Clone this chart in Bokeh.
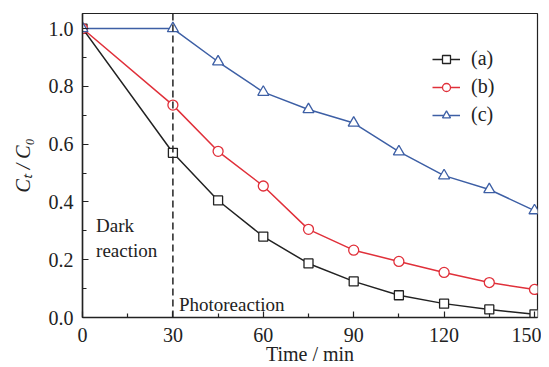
from bokeh.plotting import figure
from bokeh.models import Range1d, Span, Label, Legend, LegendItem, FixedTicker, PrintfTickFormatter
from bokeh.embed import file_html
from bokeh.resources import INLINE

time = [0, 30, 45, 60, 75, 90, 105, 120, 135, 150]
series_a = [1.0, 0.57, 0.405, 0.28, 0.187, 0.125, 0.077, 0.048, 0.028, 0.011]
series_b = [1.0, 0.735, 0.575, 0.455, 0.305, 0.233, 0.194, 0.156, 0.121, 0.097]
series_c = [1.0, 1.0, 0.885, 0.78, 0.72, 0.673, 0.574, 0.491, 0.443, 0.37]
labels = ["(a)", "(b)", "(c)"]
x_ticks = [0, 30, 60, 90, 120, 150]
y_ticks = [0.0, 0.2, 0.4, 0.6, 0.8, 1.0]

FONT = "Liberation Serif"
BLACK = "#222222"
RED = "#e0303a"
BLUE = "#3d5fa5"

p = figure(width=541, height=367, output_backend="svg", toolbar_location=None,
           x_range=Range1d(0, 151), y_range=Range1d(0, 1.052),
           min_border_left=82, min_border_right=4, min_border_top=13, min_border_bottom=50)
p.background_fill_color = "white"
p.border_fill_color = "white"
p.outline_line_color = BLACK
p.outline_line_width = 1.2
p.grid.visible = False

for ax in (p.xaxis[0], p.yaxis[0]):
    ax.axis_line_color = BLACK
    ax.axis_line_width = 1.5
    ax.major_tick_in = 6
    ax.major_tick_out = 0
    ax.minor_tick_in = 4
    ax.minor_tick_out = 0
    ax.major_tick_line_color = BLACK
    ax.minor_tick_line_color = BLACK
    ax.major_tick_line_width = 1.2
    ax.minor_tick_line_width = 1.2
    ax.major_label_text_font = FONT
    ax.major_label_text_font_size = "20px"
    ax.major_label_text_color = BLACK
    ax.axis_label_text_font = FONT
    ax.axis_label_text_font_size = "20px"
    ax.axis_label_text_font_style = "normal"
    ax.axis_label_text_color = BLACK

p.xaxis.ticker = FixedTicker(ticks=x_ticks, minor_ticks=[15, 45, 75, 105, 135])
p.yaxis.ticker = FixedTicker(ticks=y_ticks, minor_ticks=[0.1, 0.3, 0.5, 0.7, 0.9])
p.yaxis.formatter = PrintfTickFormatter(format="%.1f")
p.xaxis.major_label_standoff = 10
p.yaxis.major_label_standoff = 9
p.xaxis.axis_label = "Time / min"
p.xaxis.axis_label_standoff = -2
p.yaxis.axis_label = "C\u209c / C\u2080"
p.yaxis.axis_label_text_font_style = "italic"
p.yaxis.axis_label_standoff = 12

p.add_layout(Span(location=30, dimension="height", line_color=BLACK,
                  line_width=1.5, line_dash="7 4"))

renderers = []
for ys, col, mk in ((series_a, BLACK, "square"), (series_b, RED, "circle"), (series_c, BLUE, "triangle")):
    ln = p.line(time, ys, line_color=col, line_width=1.5)
    sz = 9 if mk == "square" else (10 if mk == "circle" else 11)
    sc = p.scatter(time, ys, marker=mk, size=sz, line_color=col, fill_color="white", line_width=1.3)
    renderers.append([ln, sc])

legend = Legend(items=[LegendItem(label=labels[i], renderers=renderers[i]) for i in range(3)],
                location=(348, 189), border_line_alpha=0, background_fill_alpha=0,
                label_text_font=FONT, label_text_font_size="20px", label_text_color=BLACK,
                glyph_width=28, spacing=5, label_standoff=11, padding=2, margin=0)
p.add_layout(legend)

for txt, yy in (("Dark", 0.32), ("reaction", 0.232)):
    p.add_layout(Label(x=4.5, y=yy, text=txt, text_font=FONT, text_font_size="19px",
                       text_color=BLACK, text_baseline="alphabetic"))
p.add_layout(Label(x=32, y=0.045, text="Photoreaction", text_font=FONT, text_font_size="19px",
                   text_color=BLACK, text_baseline="alphabetic"))

open("out.html", "w").write(file_html(p, INLINE))
